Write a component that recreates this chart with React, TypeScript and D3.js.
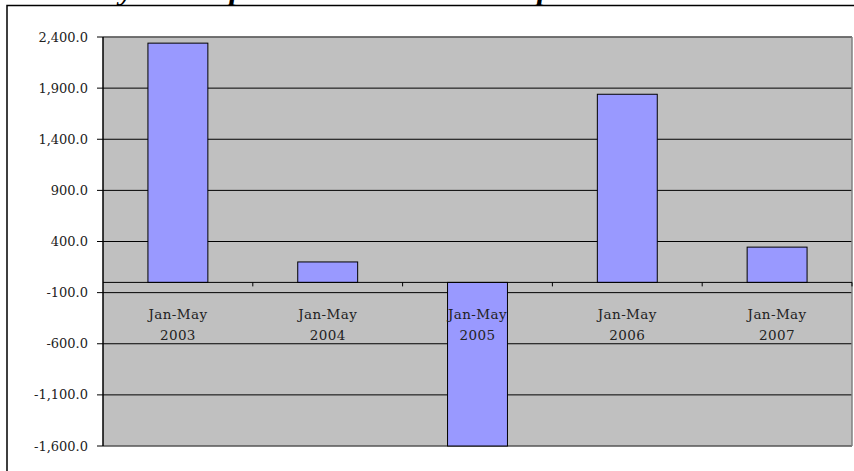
import React from 'react';
import * as d3 from 'd3';

const categories = ['Jan-May 2003', 'Jan-May 2004', 'Jan-May 2005', 'Jan-May 2006', 'Jan-May 2007'];
const values = [2340, 200, -1600, 1840, 345];
const yTicks = [2400, 1900, 1400, 900, 400, -100, -600, -1100, -1600];

const W = 854;
const H = 471;
const margin = { left: 103, right: 2, top: 37, bottom: 25 };

const App: React.FC = () => {
    const x = d3.scaleBand<string>()
        .domain(categories)
        .range([margin.left, W - margin.right])
        .paddingInner(0.6)
        .paddingOuter(0.3);
    const band = d3.scaleBand<string>()
        .domain(categories)
        .range([margin.left, W - margin.right]);
    const y = d3.scaleLinear()
        .domain([-1600, 2400])
        .range([H - margin.bottom, margin.top]);
    // plain hyphen for negatives, like the original
    const fmt = d3.formatLocale({ decimal: '.', thousands: ',', grouping: [3], currency: ['', ''], minus: '-' }).format(',.1f');
    const font = '"DejaVu Serif", serif';
    const x0 = margin.left;
    const x1 = W - margin.right;

    return (
        <svg width={W} height={H} style={{ position: 'absolute', left: 0, top: 0 }}>
            <rect x={0} y={0} width={W} height={H} fill="#fff" />
            {/* title, cut off at the top of the page: only descenders show */}
            <text y={-1} fontFamily='"Liberation Serif", serif' fontSize={32} fontStyle="italic" fontWeight="bold">
                <tspan x={22}>Monthly</tspan>
                <tspan x={138}>Net Exports and</tspan>
                <tspan x={500}>Imports</tspan>
            </text>
            <rect x={7} y={5.5} width={W} height={H} fill="none" stroke="#000" strokeWidth={1.5} />

            {/* plot area */}
            <rect x={x0} y={y(2400)} width={x1 - x0} height={y(-1600) - y(2400)} fill="#c0c0c0" />
            {yTicks.map(t => (
                <g key={t}>
                    <line x1={x0 - 6} x2={x1} y1={y(t)} y2={y(t)} stroke="#000" strokeWidth={1} />
                    <text x={88} y={y(t)} dy="0.35em" textAnchor="end" fontFamily={font} fontSize={13} fill="#222">
                        {fmt(t)}
                    </text>
                </g>
            ))}
            <line x1={x0} x2={x1} y1={y(2400)} y2={y(2400)} stroke="#707070" strokeWidth={1.5} />
            <line x1={x1} x2={x1} y1={y(2400)} y2={y(-1600)} stroke="#808080" strokeWidth={1.5} />
            <line x1={x0} x2={x1} y1={y(-1600)} y2={y(-1600)} stroke="#808080" strokeWidth={1} />

            {/* bars */}
            {categories.map((c, i) => (
                <rect
                    key={c}
                    x={x(c)}
                    y={y(Math.max(0, values[i]))}
                    width={x.bandwidth()}
                    height={Math.abs(y(values[i]) - y(0))}
                    fill="#9999ff"
                    stroke="#000"
                    strokeWidth={1}
                />
            ))}

            {/* axes */}
            <line x1={x0} x2={x0} y1={y(2400)} y2={y(-1600)} stroke="#000" strokeWidth={1.5} />
            <line x1={x0} x2={x1} y1={y(0)} y2={y(0)} stroke="#000" strokeWidth={1} />
            {categories.map(c => (
                <line key={c} x1={band(c)! + band.bandwidth()} x2={band(c)! + band.bandwidth()}
                    y1={y(0)} y2={y(0) + 4} stroke="#000" />
            ))}
            {categories.map(c => {
                const [a, b] = c.split(' ');
                const cx = band(c)! + band.bandwidth() / 2;
                return (
                    <text key={c} x={cx} textAnchor="middle" fontFamily={font} fontSize={13.5} letterSpacing={0.4} fill="#222">
                        <tspan x={cx} y={y(0) + 37}>{a}</tspan>
                        <tspan x={cx} y={y(0) + 58}>{b}</tspan>
                    </text>
                );
            })}
        </svg>
    );
};

export default App;
